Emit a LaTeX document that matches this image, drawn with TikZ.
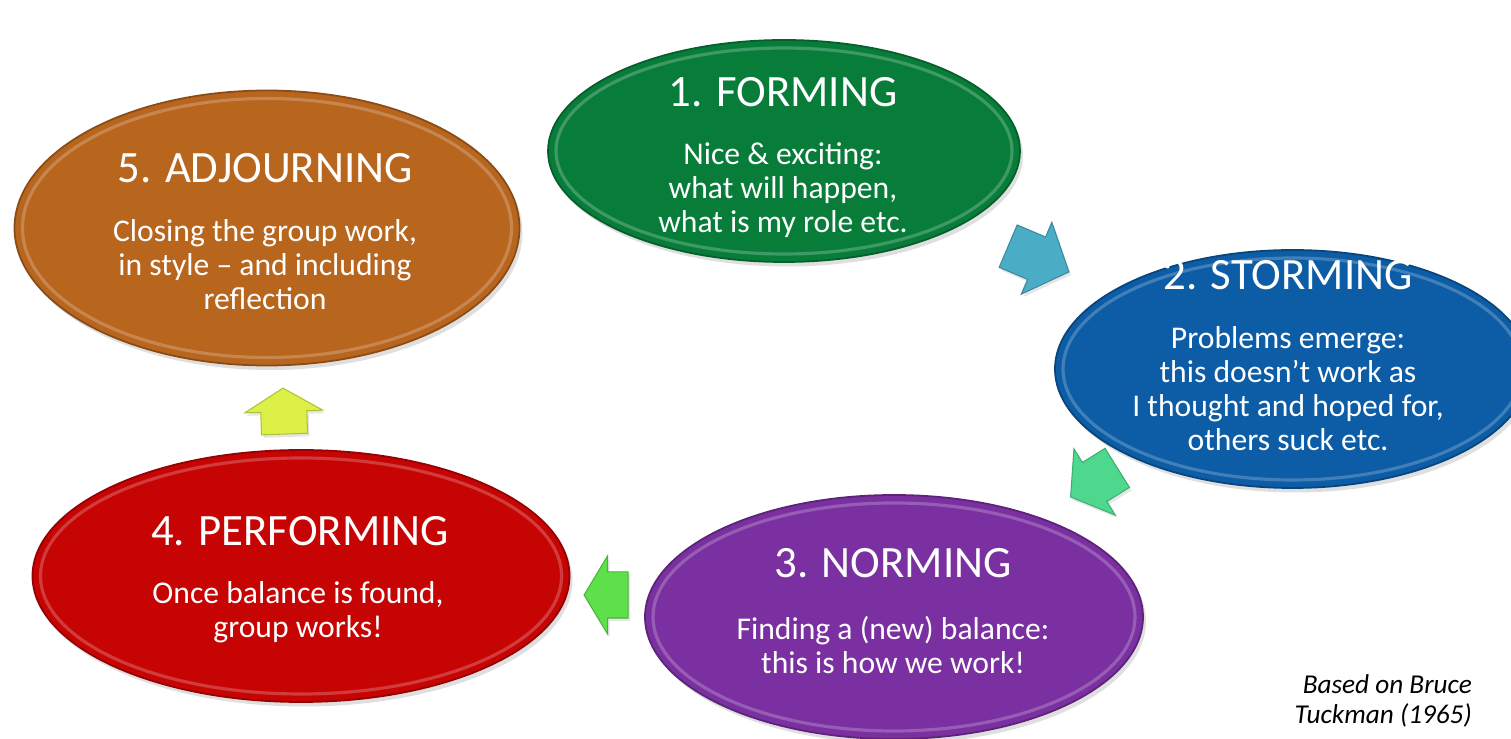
\documentclass[tikz,border=0pt]{standalone}
\usepackage{fontspec}
\setmainfont{Carlito}
\usepackage{tikz}
\usetikzlibrary{shapes.geometric, shapes.arrows, shadows}
\definecolor{formgreen}{RGB}{8,125,58}
\definecolor{stormblue}{RGB}{12,92,166}
\definecolor{normpurple}{RGB}{122,48,160}
\definecolor{perfred}{RGB}{198,4,4}
\definecolor{adjorange}{RGB}{184,101,30}
\definecolor{arrowcyan}{RGB}{75,172,198}
\definecolor{arrowteal}{RGB}{78,216,142}
\definecolor{arrowgreen}{RGB}{94,224,74}
\definecolor{arrowyellow}{RGB}{221,240,72}
\tikzset{
   stage/.style={ellipse, inner sep=0pt, fill=#1, draw=#1!75!black, line width=1pt,
      drop shadow={opacity=0.25, shadow xshift=0.6mm, shadow yshift=-0.9mm}},
   rim/.style={draw=white, opacity=0.22, line width=1.8pt},
   title/.style={text=white, font=\fontsize{25.5}{30}\selectfont},
   body/.style={text=white, align=center, font=\fontsize{18}{19.3}\selectfont},
   blockarrow/.style={single arrow, inner xsep=0pt, inner ysep=0.45cm, fill=#1,
      draw=#1!80!black, line width=0.6pt, single arrow head extend=0.32cm,
      drop shadow={opacity=0.2, shadow xshift=0.4mm, shadow yshift=-0.6mm}},
}
\begin{document}
\begin{tikzpicture}
   % name, centre, x radius, y radius, colour
   \newcommand{\stage}[5]{%
      \node[stage=#5, minimum width=2*#3, minimum height=2*#4] (#1) at (#2) {};
      \draw[rim] (#1.center) ellipse [x radius=#3-0.16cm, y radius=#4-0.16cm];
   }
   \useasboundingbox (0,0) rectangle (30.22,14.78);
   \stage{forming}{15.68,11.76}{4.72cm}{2.22cm}{formgreen}
   \stage{storming}{25.85,7.4}{4.75cm}{2.38cm}{stormblue}
   \stage{norming}{17.88,2.44}{4.98cm}{2.44cm}{normpurple}
   \stage{performing}{6.02,3.26}{5.37cm}{2.52cm}{perfred}
   \stage{adjourning}{5.34,10.22}{5.05cm}{2.75cm}{adjorange}
   % texts
   \node[title] (forming-title) at (15.66,12.94) {1. FORMING};
   \node[body] (forming-body) at (15.66,10.98) {Nice \& exciting:\\what will happen,\\what is my role etc.};
   \node[title] (storming-title) at (25.76,9.28) {2. STORMING};
   \node[body] (storming-body) at (25.76,7.0) {Problems emerge:\\this doesn’t work as\\I thought and hoped for,\\others suck etc.};
   \node[title] (norming-title) at (17.86,3.52) {3. NORMING};
   \node[body] (norming-body) at (17.86,1.88) {Finding a (new) balance:\\this is how we work!};
   \node[title] (performing-title) at (6.0,4.16) {4. PERFORMING};
   \node[body] (performing-body) at (5.96,2.54) {Once balance is found,\\group works!};
   \node[title] (adjourning-title) at (5.3,11.42) {5. ADJOURNING};
   \node[body] (adjourning-body) at (5.3,9.48) {Closing the group work,\\in style -- and including\\reflection};
   % arrows between the stages
   \node[blockarrow=arrowcyan, minimum height=1.32cm, single arrow tip angle=96, rotate=-23] (to-storming) at (20.58,9.68) {};
   \node[blockarrow=arrowteal, minimum height=1.1cm, single arrow tip angle=108, rotate=212] (to-norming) at (22.02,5.22) {};
   \node[blockarrow=arrowgreen, minimum height=0.88cm, single arrow tip angle=118, rotate=180] (to-performing) at (12.26,2.88) {};
   \node[blockarrow=arrowyellow, minimum height=0.92cm, single arrow tip angle=118, rotate=92] (to-adjourning) at (5.68,6.42) {};
   \node[anchor=east, align=right, font=\fontsize{15.5}{17}\selectfont\itshape] (source) at (29.56,0.76) {Based on Bruce\\Tuckman (1965)};
\end{tikzpicture}
\end{document}
